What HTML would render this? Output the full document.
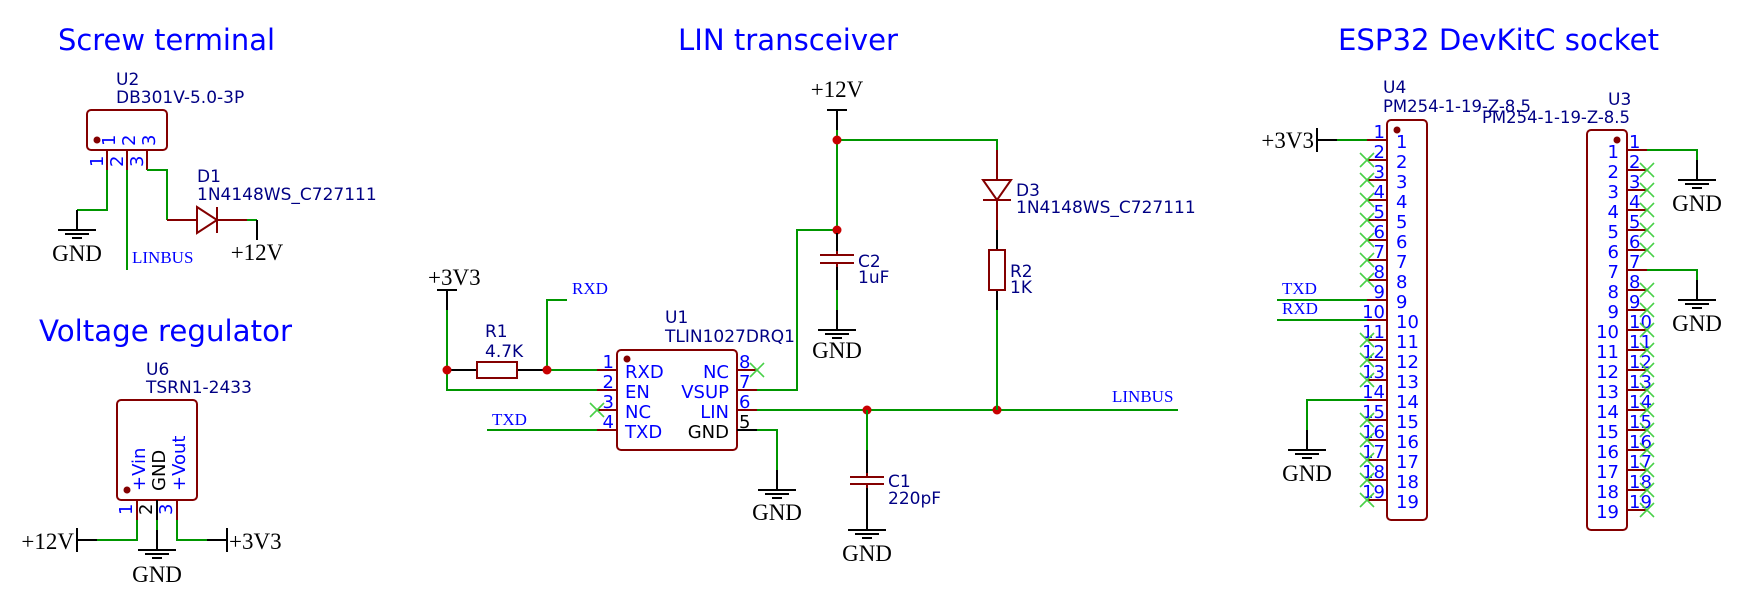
<!DOCTYPE html>
<html><head><meta charset="utf-8"><style>
html,body{margin:0;padding:0;background:#fff;}
svg{display:block}
.w{stroke:#009600;stroke-width:2;fill:none}
.p{stroke:#840000;stroke-width:2;fill:none}
.k{stroke:#000;stroke-width:2;fill:none}
.nc{stroke:#48d048;stroke-width:1.6;fill:none}
.t{fill:#0000ff;font-family:"DejaVu Sans","Liberation Sans",sans-serif;font-size:29px}
.r{fill:#000084;font-family:"DejaVu Sans","Liberation Sans",sans-serif;font-size:17px}
.pn{fill:#0000ff;font-family:"DejaVu Sans","Liberation Sans",sans-serif;font-size:18px}
.pk{fill:#000;font-family:"DejaVu Sans","Liberation Sans",sans-serif;font-size:18px}
.s{fill:#000;font-family:"Liberation Serif",serif;font-size:23px}
.lb{fill:#0000ff;font-family:"Liberation Serif",serif;font-size:17px}
</style></head><body>
<svg width="1744" height="608" viewBox="0 0 1744 608" xmlns="http://www.w3.org/2000/svg">
<defs>
<g id="gnd"><path d="M-19 0H19M-12 4H12M-5 8H5" stroke="#000" stroke-width="2"/></g>
</defs>

<text class="t" x="58" y="50" textLength="217" lengthAdjust="spacingAndGlyphs">Screw terminal</text>
<text class="t" x="39" y="341" textLength="253" lengthAdjust="spacingAndGlyphs">Voltage regulator</text>
<text class="t" x="678" y="50" textLength="220" lengthAdjust="spacingAndGlyphs">LIN transceiver</text>
<text class="t" x="1338" y="50" textLength="321" lengthAdjust="spacingAndGlyphs">ESP32 DevKitC socket</text>

<!-- U2 -->
<text class="r" x="116" y="85">U2</text>
<text class="r" x="116" y="103">DB301V-5.0-3P</text>
<rect x="87" y="110" width="80" height="40" rx="4" class="p"/>
<circle cx="97" cy="140" r="3.5" fill="#840000"/>
<text class="pn" transform="translate(115,146) rotate(-90)">1</text>
<text class="pn" transform="translate(135,146) rotate(-90)">2</text>
<text class="pn" transform="translate(155,146) rotate(-90)">3</text>
<text class="pn" transform="translate(103,167) rotate(-90)">1</text>
<text class="pn" transform="translate(123,167) rotate(-90)">2</text>
<text class="pn" transform="translate(143,167) rotate(-90)">3</text>
<path class="p" d="M107 150V170M127 150V170M147 150V170"/>
<path class="w" d="M107 170V210H77M127 170V270M147 170H167V220"/>
<path class="k" d="M77 210V230"/>
<use href="#gnd" x="77" y="230"/>
<text class="s" x="77" y="261" text-anchor="middle">GND</text>
<text class="lb" x="132" y="263">LINBUS</text>
<path class="p" d="M167 220H197M217 220H247M217 207V233"/>
<path class="p" d="M197 207L217 220L197 233Z"/>
<path class="w" d="M247 220H257"/>
<path class="k" d="M257 220V240"/>
<text class="s" x="257" y="260" text-anchor="middle">+12V</text>
<text class="r" x="197" y="182">D1</text>
<text class="r" x="197" y="200">1N4148WS_C727111</text>

<!-- U6 -->
<text class="r" x="146" y="375">U6</text>
<text class="r" x="146" y="393">TSRN1-2433</text>
<rect x="117" y="400" width="80" height="100" rx="4" class="p"/>
<circle cx="127" cy="490" r="3.5" fill="#840000"/>
<text class="pn" transform="translate(145,491) rotate(-90)">+Vin</text>
<text class="pk" transform="translate(165,491) rotate(-90)">GND</text>
<text class="pn" transform="translate(185,491) rotate(-90)">+Vout</text>
<text class="pn" transform="translate(132,515) rotate(-90)">1</text>
<text class="pk" transform="translate(152,515) rotate(-90)">2</text>
<text class="pn" transform="translate(172,515) rotate(-90)">3</text>
<path class="p" d="M137 500V520M177 500V520"/>
<path class="k" d="M157 500V520"/>
<path class="w" d="M137 520V540H97M157 520V530M177 520V540H207"/>
<path class="k" d="M97 540H77M77 528V552M157 530V550M207 540H227M227 528V552"/>
<use href="#gnd" x="157" y="550"/>
<text class="s" x="74" y="549" text-anchor="end">+12V</text>
<text class="s" x="229" y="549">+3V3</text>
<text class="s" x="157" y="582" text-anchor="middle">GND</text>

<!-- LIN -->
<text class="s" x="428" y="285">+3V3</text>
<path class="k" d="M437 290H457M447 290V310M447 370H477M517 370H547"/>
<path class="w" d="M447 310V390H597M547 370H597M547 370V300H567M487 430H597"/>
<rect x="477" y="362" width="40" height="16" class="p"/>
<circle cx="447" cy="370" r="4.5" fill="#c80000"/>
<circle cx="547" cy="370" r="4.5" fill="#c80000"/>
<text class="lb" x="572" y="294">RXD</text>
<text class="lb" x="492" y="425">TXD</text>
<text class="r" x="485" y="337">R1</text>
<text class="r" x="485" y="357">4.7K</text>
<text class="r" x="665" y="323">U1</text>
<text class="r" x="665" y="342">TLIN1027DRQ1</text>
<rect x="617" y="350" width="120" height="100" rx="4" class="p"/>
<circle cx="627" cy="359" r="3.5" fill="#840000"/>
<path class="p" d="M597 370H617M597 390H617M597 410H617M597 430H617M737 370H757M737 390H757M737 410H757"/>
<path class="k" d="M737 430H757"/>
<text class="pn" x="614" y="368" text-anchor="end">1</text>
<text class="pn" x="614" y="388" text-anchor="end">2</text>
<text class="pn" x="614" y="408" text-anchor="end">3</text>
<text class="pn" x="614" y="428" text-anchor="end">4</text>
<text class="pn" x="739" y="368">8</text>
<text class="pn" x="739" y="388">7</text>
<text class="pn" x="739" y="408">6</text>
<text class="pk" x="739" y="428">5</text>
<text class="pn" x="625" y="378">RXD</text>
<text class="pn" x="625" y="398">EN</text>
<text class="pn" x="625" y="418">NC</text>
<text class="pn" x="625" y="438">TXD</text>
<text class="pn" x="729" y="378" text-anchor="end">NC</text>
<text class="pn" x="729" y="398" text-anchor="end">VSUP</text>
<text class="pn" x="729" y="418" text-anchor="end">LIN</text>
<text class="pk" x="729" y="438" text-anchor="end">GND</text>
<path class="nc" d="M590 403l14 14m0-14l-14 14M750 363l14 14m0-14l-14 14"/>
<path class="w" d="M757 430H777V470"/>
<path class="k" d="M777 470V490"/>
<use href="#gnd" x="777" y="490"/>
<text class="s" x="777" y="520" text-anchor="middle">GND</text>
<path class="w" d="M757 410H1178"/>
<circle cx="867" cy="410" r="4.5" fill="#c80000"/>
<circle cx="997" cy="410" r="4.5" fill="#c80000"/>
<text class="lb" x="1112" y="402">LINBUS</text>
<path class="w" d="M867 410V450"/>
<path class="k" d="M867 450V473M867 488V530"/>
<path class="p" d="M850 477H884M850 484H884M867 473V477M867 484V488"/>
<use href="#gnd" x="867" y="530"/>
<text class="s" x="867" y="561" text-anchor="middle">GND</text>
<text class="r" x="888" y="487">C1</text>
<text class="r" x="888" y="504">220pF</text>
<path class="w" d="M757 390H797V230H837"/>
<text class="s" x="837" y="97" text-anchor="middle">+12V</text>
<path class="k" d="M827 110H847M837 110V130"/>
<path class="w" d="M837 130V233M837 140H997V150"/>
<circle cx="837" cy="140" r="4.5" fill="#c80000"/>
<circle cx="837" cy="230" r="4.5" fill="#c80000"/>
<path class="k" d="M837 233V251M837 267V290M837 310V330"/>
<path class="p" d="M820 255H854M820 263H854M837 251V255M837 263V267"/>
<path class="w" d="M837 290V310"/>
<use href="#gnd" x="837" y="330"/>
<text class="s" x="837" y="358" text-anchor="middle">GND</text>
<text class="r" x="858" y="267">C2</text>
<text class="r" x="858" y="283">1uF</text>
<path class="p" d="M997 150V180M983 200H1011M997 200V230"/>
<path class="p" d="M983 180H1011L997 200Z"/>
<path class="k" d="M997 230V250M997 290V310"/>
<rect x="989" y="250" width="16" height="40" class="p"/>
<path class="w" d="M997 310V410"/>
<text class="r" x="1016" y="196">D3</text>
<text class="r" x="1016" y="213">1N4148WS_C727111</text>
<text class="r" x="1010" y="277">R2</text>
<text class="r" x="1010" y="293">1K</text>

<!-- ESP32 -->
<text class="r" x="1383" y="93">U4</text>
<text class="r" x="1383" y="112" textLength="148" lengthAdjust="spacingAndGlyphs">PM254-1-19-Z-8.5</text>
<text class="r" x="1608" y="105">U3</text>
<text class="r" x="1482" y="123" textLength="148" lengthAdjust="spacingAndGlyphs">PM254-1-19-Z-8.5</text>

<rect x="1387" y="120" width="40" height="400" rx="4" class="p"/>
<circle cx="1397" cy="130" r="3.5" fill="#840000"/>
<rect x="1587" y="130" width="40" height="400" rx="4" class="p"/>
<circle cx="1617" cy="140" r="3.5" fill="#840000"/>

<path class="p" d="M1367 140H1387M1367 160H1387M1367 180H1387M1367 200H1387M1367 220H1387M1367 240H1387M1367 260H1387M1367 280H1387M1367 300H1387M1367 320H1387M1367 340H1387M1367 360H1387M1367 380H1387M1367 400H1387M1367 420H1387M1367 440H1387M1367 460H1387M1367 480H1387M1367 500H1387"/>
<g class="pn" text-anchor="end">
<text x="1385" y="138">1</text><text x="1385" y="158">2</text><text x="1385" y="178">3</text><text x="1385" y="198">4</text><text x="1385" y="218">5</text><text x="1385" y="238">6</text><text x="1385" y="258">7</text><text x="1385" y="278">8</text><text x="1385" y="298">9</text><text x="1385" y="318">10</text><text x="1385" y="338">11</text><text x="1385" y="358">12</text><text x="1385" y="378">13</text><text x="1385" y="398">14</text><text x="1385" y="418">15</text><text x="1385" y="438">16</text><text x="1385" y="458">17</text><text x="1385" y="478">18</text><text x="1385" y="498">19</text>
</g>
<g class="pn">
<text x="1396" y="148">1</text><text x="1396" y="168">2</text><text x="1396" y="188">3</text><text x="1396" y="208">4</text><text x="1396" y="228">5</text><text x="1396" y="248">6</text><text x="1396" y="268">7</text><text x="1396" y="288">8</text><text x="1396" y="308">9</text><text x="1396" y="328">10</text><text x="1396" y="348">11</text><text x="1396" y="368">12</text><text x="1396" y="388">13</text><text x="1396" y="408">14</text><text x="1396" y="428">15</text><text x="1396" y="448">16</text><text x="1396" y="468">17</text><text x="1396" y="488">18</text><text x="1396" y="508">19</text>
</g>
<path class="nc" d="M1360 153l14 14m0-14l-14 14M1360 173l14 14m0-14l-14 14M1360 193l14 14m0-14l-14 14M1360 213l14 14m0-14l-14 14M1360 233l14 14m0-14l-14 14M1360 253l14 14m0-14l-14 14M1360 273l14 14m0-14l-14 14M1360 333l14 14m0-14l-14 14M1360 353l14 14m0-14l-14 14M1360 373l14 14m0-14l-14 14M1360 413l14 14m0-14l-14 14M1360 433l14 14m0-14l-14 14M1360 453l14 14m0-14l-14 14M1360 473l14 14m0-14l-14 14M1360 493l14 14m0-14l-14 14"/>
<text class="s" x="1314" y="148" text-anchor="end">+3V3</text>
<path class="k" d="M1317 128V152M1317 140H1337M1307 430V450"/>
<path class="w" d="M1337 140H1367M1277 300H1367M1277 320H1367M1367 400H1307V430"/>
<text class="lb" x="1282" y="294">TXD</text>
<text class="lb" x="1282" y="314">RXD</text>
<use href="#gnd" x="1307" y="450"/>
<text class="s" x="1307" y="481" text-anchor="middle">GND</text>

<path class="p" d="M1627 150H1647M1627 170H1647M1627 190H1647M1627 210H1647M1627 230H1647M1627 250H1647M1627 270H1647M1627 290H1647M1627 310H1647M1627 330H1647M1627 350H1647M1627 370H1647M1627 390H1647M1627 410H1647M1627 430H1647M1627 450H1647M1627 470H1647M1627 490H1647M1627 510H1647"/>
<g class="pn" text-anchor="end">
<text x="1619" y="158">1</text><text x="1619" y="178">2</text><text x="1619" y="198">3</text><text x="1619" y="218">4</text><text x="1619" y="238">5</text><text x="1619" y="258">6</text><text x="1619" y="278">7</text><text x="1619" y="298">8</text><text x="1619" y="318">9</text><text x="1619" y="338">10</text><text x="1619" y="358">11</text><text x="1619" y="378">12</text><text x="1619" y="398">13</text><text x="1619" y="418">14</text><text x="1619" y="438">15</text><text x="1619" y="458">16</text><text x="1619" y="478">17</text><text x="1619" y="498">18</text><text x="1619" y="518">19</text>
</g>
<g class="pn">
<text x="1629" y="148">1</text><text x="1629" y="168">2</text><text x="1629" y="188">3</text><text x="1629" y="208">4</text><text x="1629" y="228">5</text><text x="1629" y="248">6</text><text x="1629" y="268">7</text><text x="1629" y="288">8</text><text x="1629" y="308">9</text><text x="1629" y="328">10</text><text x="1629" y="348">11</text><text x="1629" y="368">12</text><text x="1629" y="388">13</text><text x="1629" y="408">14</text><text x="1629" y="428">15</text><text x="1629" y="448">16</text><text x="1629" y="468">17</text><text x="1629" y="488">18</text><text x="1629" y="508">19</text>
</g>
<path class="nc" d="M1640 163l14 14m0-14l-14 14M1640 183l14 14m0-14l-14 14M1640 203l14 14m0-14l-14 14M1640 223l14 14m0-14l-14 14M1640 243l14 14m0-14l-14 14M1640 283l14 14m0-14l-14 14M1640 303l14 14m0-14l-14 14M1640 323l14 14m0-14l-14 14M1640 343l14 14m0-14l-14 14M1640 363l14 14m0-14l-14 14M1640 383l14 14m0-14l-14 14M1640 403l14 14m0-14l-14 14M1640 423l14 14m0-14l-14 14M1640 443l14 14m0-14l-14 14M1640 463l14 14m0-14l-14 14M1640 483l14 14m0-14l-14 14M1640 503l14 14m0-14l-14 14"/>
<path class="w" d="M1647 150H1697V160M1647 270H1697V280"/>
<path class="k" d="M1697 160V180M1697 280V300"/>
<use href="#gnd" x="1697" y="180"/>
<use href="#gnd" x="1697" y="300"/>
<text class="s" x="1697" y="211" text-anchor="middle">GND</text>
<text class="s" x="1697" y="331" text-anchor="middle">GND</text>
</svg>
</body></html>
